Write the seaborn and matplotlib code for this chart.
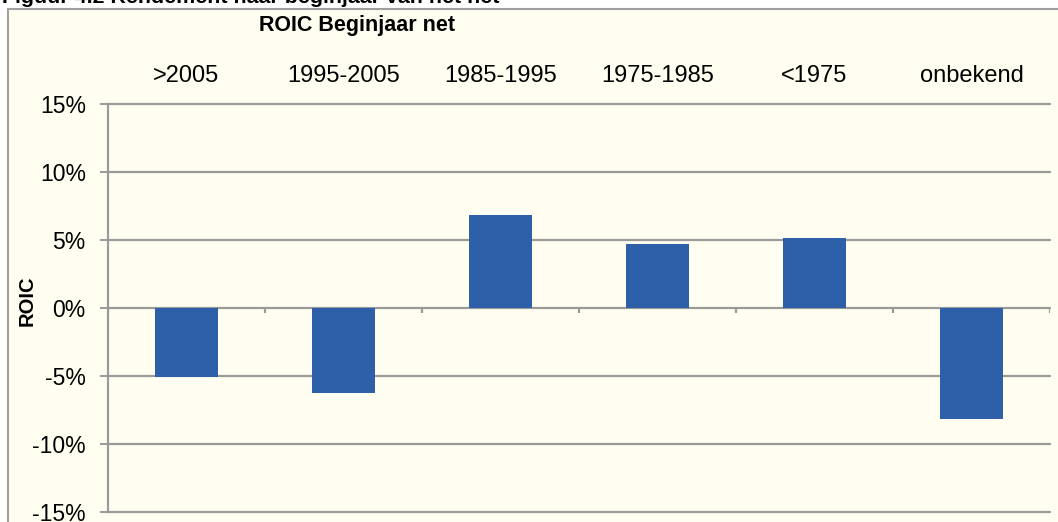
import matplotlib
matplotlib.use("Agg")
import matplotlib.pyplot as plt
import seaborn as sns
import numpy as np
import pandas as pd
from matplotlib.patches import Rectangle
from matplotlib.ticker import FuncFormatter

categories = [">2005", "1995-2005", "1985-1995", "1975-1985", "<1975", "onbekend"]
roic = [-0.051, -0.063, 0.068, 0.047, 0.051, -0.082]
yticks = [-0.15, -0.10, -0.05, 0.0, 0.05, 0.10, 0.15]

sns.set_theme(style="white")
plt.rcParams['font.family'] = ['Liberation Sans', 'DejaVu Sans']

W, H = 1058, 522
fig = plt.figure(figsize=(W / 100, H / 100), dpi=100)
fig.patch.set_facecolor("white")

bg = "#FFFEF0"
grid_c = "#9A9A9A"
bar_c = "#2E5FA9"

# outer chart box
box = Rectangle((8 / W, -0.05), 1.1, (1 - 9 / H) + 0.05, transform=fig.transFigure,
                facecolor=bg, edgecolor="#A0A0A0", linewidth=1.5, zorder=-10)
fig.patches.append(box)

fig.text(2 / W, 1 - 3 / H, "Figuur 4.2 Rendement naar beginjaar van het net",
         fontsize=15.4, fontweight="bold", va="baseline", ha="left", color="black")
fig.text(357 / W, 1 - 25 / H, "ROIC Beginjaar net", fontsize=15.5, fontweight="bold",
         ha="center", va="center", color="black")

ax = fig.add_axes([108 / W, 1 - 511.7 / H, (1050 - 108) / W, (511.7 - 103.7) / H])
ax.set_facecolor("none")
ax.set_zorder(2)

df = pd.DataFrame({"cat": categories, "roic": roic})
sns.barplot(data=df, x="cat", y="roic", color=bar_c, width=0.4, saturation=1,
            edgecolor="none", ax=ax, zorder=3)

ax.set_ylim(-0.15, 0.15)
ax.set_xlim(-0.5, len(categories) - 0.5)
ax.set_yticks(yticks)
ax.yaxis.set_major_formatter(FuncFormatter(lambda v, p: f"{v * 100:.0f}%"))
for y in yticks:
    ax.axhline(y, color=grid_c, lw=1.6, zorder=1, clip_on=False)

# category axis at 0 with boundary ticks
bounds = np.arange(len(categories) + 1) - 0.5
ax.vlines(bounds, 0, -0.0038, color=grid_c, lw=1.6, zorder=1)

ax.xaxis.tick_top()
ax.tick_params(axis="x", length=0, pad=12, labelsize=17, colors="black")
ax.tick_params(axis="y", left=True, length=6, width=1.4, color=grid_c, pad=10,
               labelsize=16.5, labelcolor="black")
ax.set_xlabel("")
ax.set_ylabel("")
for s in ["top", "right", "bottom"]:
    ax.spines[s].set_visible(False)
ax.spines["left"].set_color(grid_c)
ax.spines["left"].set_linewidth(1.6)

fig.text(27 / W, 1 - 301 / H, "ROIC", rotation=90, fontsize=14.5, fontweight="bold",
         ha="center", va="center", color="black")

fig.savefig("out.png", dpi=100, facecolor=fig.get_facecolor())
